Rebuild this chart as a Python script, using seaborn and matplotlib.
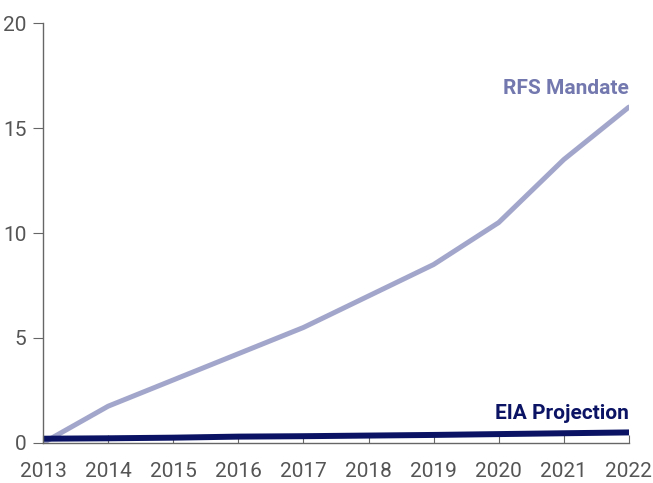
import seaborn as sns
import pandas as pd
import matplotlib.pyplot as plt

years = [2013, 2014, 2015, 2016, 2017, 2018, 2019, 2020, 2021, 2022]
rfs_mandate = [0.0, 1.75, 3.0, 4.25, 5.5, 7.0, 8.5, 10.5, 13.5, 16.0]
eia_projection = [0.2, 0.22, 0.25, 0.3, 0.32, 0.35, 0.38, 0.42, 0.46, 0.5]

sns.set_style("white")
plt.rcParams['font.family'] = ['Roboto', 'DejaVu Sans']

df = pd.DataFrame({"year": years, "rfs": rfs_mandate, "eia": eia_projection})

fig = plt.figure(figsize=(6.53, 4.83), dpi=100)
ax = fig.add_axes([0.066, 0.083, 0.897, 0.869])

sns.lineplot(data=df, x="year", y="rfs", ax=ax, color="#a3a6cb", linewidth=3.6,
             solid_capstyle="round")
sns.lineplot(data=df, x="year", y="eia", ax=ax, color="#0b1464", linewidth=4.3,
             solid_capstyle="round")

ax.set_xlim(2013, 2022)
ax.set_ylim(0, 20)
ax.set_xticks(years)
ax.set_yticks([0, 5, 10, 15, 20])
ax.set_xlabel("")
ax.set_ylabel("")

for s in ["top", "right"]:
    ax.spines[s].set_visible(False)
for s in ["left", "bottom"]:
    ax.spines[s].set_color("#666666")
    ax.spines[s].set_linewidth(1)

ax.tick_params(axis="x", direction="in", length=6, color="#666666",
               labelsize=15, labelcolor="#555555", pad=13.5, bottom=True)
ax.tick_params(axis="y", direction="out", length=7, color="#666666",
               labelsize=15, labelcolor="#555555", pad=5, left=True)

ax.text(2022, 16.9, "RFS Mandate", ha="right", va="center", fontsize=15,
        fontweight="bold", color="#7378ae")
ax.text(2022, 1.4, "EIA Projection", ha="right", va="center", fontsize=15,
        fontweight="bold", color="#0b1464")

ax.grid(False)
fig.savefig("out.png", dpi=100)
